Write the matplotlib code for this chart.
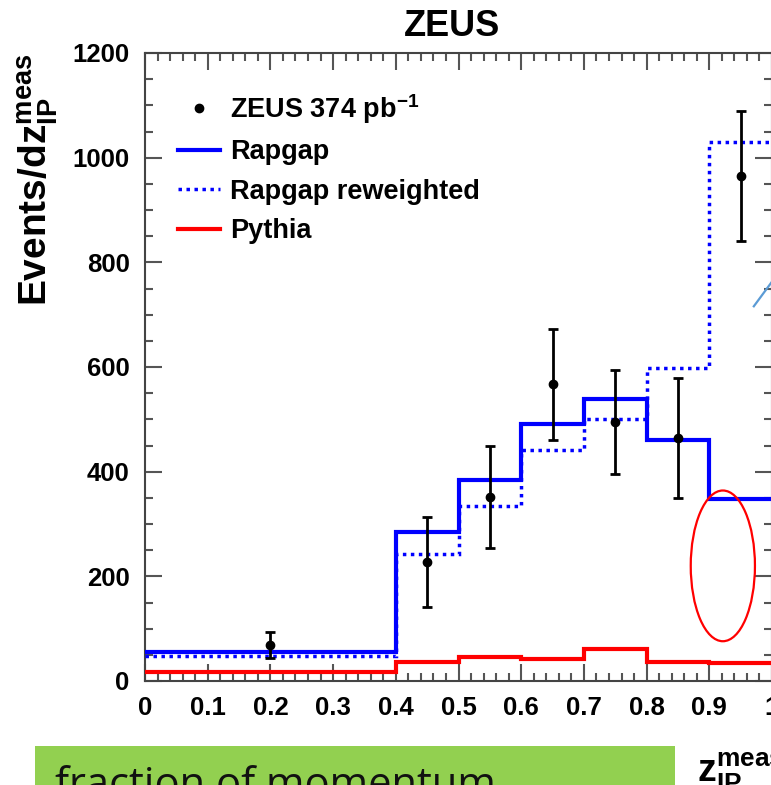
import matplotlib
matplotlib.use("Agg")
import matplotlib.pyplot as plt
from matplotlib.lines import Line2D
from matplotlib.patches import Ellipse, Rectangle
from matplotlib.ticker import MultipleLocator

plt.rcParams['font.family'] = ['Liberation Sans', 'DejaVu Sans']
plt.rcParams['mathtext.fontset'] = 'custom'
plt.rcParams['mathtext.rm'] = 'Liberation Sans:bold'
plt.rcParams['mathtext.bf'] = 'Liberation Sans:bold'
plt.rcParams['mathtext.it'] = 'Liberation Sans:bold'

# bin edges of z_IP^meas
edges = [0.0, 0.4, 0.5, 0.6, 0.7, 0.8, 0.9, 1.0]
rapgap = [55, 285, 384, 491, 539, 460, 348]
rapgap_rew = [47, 243, 334, 441, 501, 598, 1030]
pythia = [17, 37, 45, 42, 61, 36, 34]

# ZEUS data points
data_x = [0.2, 0.45, 0.55, 0.65, 0.75, 0.85, 0.95]
data_y = [69, 227, 352, 567, 495, 464, 965]
data_err = [25, 86, 97, 106, 99, 115, 125]

xtick_vals = [0, 0.1, 0.2, 0.3, 0.4, 0.5, 0.6, 0.7, 0.8, 0.9, 1.0]
xtick_labels = ['0', '0.1', '0.2', '0.3', '0.4', '0.5', '0.6', '0.7', '0.8', '0.9', '1']
ytick_vals = [0, 200, 400, 600, 800, 1000, 1200]

W, H = 771, 785
fig = plt.figure(figsize=(W / 100, H / 100), dpi=100)
ax = fig.add_axes([145 / W, (H - 681) / H, (772 - 145) / W, 628 / H])

ax.stairs(rapgap, edges, color='#0000ff', lw=3, baseline=None, zorder=3)
ax.stairs(rapgap_rew, edges, color='#0000ff', lw=2.5, linestyle=(0, (1, 1.3)),
          baseline=None, zorder=3)
ax.stairs(pythia, edges, color='#ff0000', lw=3, baseline=None, zorder=3)
ax.errorbar(data_x, data_y, yerr=data_err, fmt='o', color='black', ms=6,
            lw=2, capsize=3.5, capthick=2, zorder=5)

ax.set_xlim(0, 1)
ax.set_ylim(0, 1200)
ax.set_xticks(xtick_vals)
ax.set_xticklabels(xtick_labels)
ax.set_yticks(ytick_vals)
ax.xaxis.set_minor_locator(MultipleLocator(0.02))
ax.yaxis.set_minor_locator(MultipleLocator(50))
ax.tick_params(which='both', direction='in', top=True, right=True, color='#555555', width=1.5)
ax.tick_params(which='major', length=12)
ax.tick_params(which='minor', length=6)
ax.tick_params(axis='x', pad=11)
ax.tick_params(axis='y', pad=11)
for lab in ax.get_xticklabels() + ax.get_yticklabels():
    lab.set_fontsize(18.5)
    lab.set_fontweight('bold')
for sp in ax.spines.values():
    sp.set_color('#444444')
    sp.set_linewidth(1.5)

# legend
handles = [
    Line2D([], [], marker='o', ms=6, color='black', linestyle='none'),
    Line2D([], [], color='#0000ff', lw=3),
    Line2D([], [], color='#0000ff', lw=2.5, linestyle=(0, (1, 1.3))),
    Line2D([], [], color='#ff0000', lw=3),
]
labels = [r'ZEUS 374 pb$^{-1}$', 'Rapgap', 'Rapgap reweighted', 'Pythia']
ax.legend(handles, labels, loc='upper left', bbox_to_anchor=(178 / W, 1 - 92 / H),
          bbox_transform=fig.transFigure, frameon=False, borderpad=0, borderaxespad=0,
          handlelength=1.55, handletextpad=0.37, labelspacing=0.5,
          prop={'weight': 'bold', 'size': 19.5})

# annotations drawn on top of the figure
ax.add_patch(Ellipse((0.9216, 220), 0.1024, 288, fill=False, edgecolor='#ff0000', lw=1.6, zorder=6))
ax.plot([0.971, 1.003], [716, 768], color='#5b9bd5', lw=1.6, clip_on=False, zorder=6)

fig.text(452 / W, 1 - 26 / H, 'ZEUS', ha='center', va='center', fontsize=26, fontweight='bold')
fig.text(38 / W, 1 - 54 / H, r'Events/dz$_{IP}^{meas}$', rotation=90, ha='center', va='top',
         fontsize=28, fontweight='bold')
fig.text(697 / W, 1 - 782 / H, r'z$_{IP}^{meas}$', ha='left', va='baseline',
         fontsize=27, fontweight='bold')

fig.patches.append(Rectangle((35 / W, 0), (675 - 35) / W, (H - 746) / H,
                             transform=fig.transFigure, facecolor='#92d050', edgecolor='none'))
fig.text(55 / W, -12 / H, 'fraction of momentum', ha='left', va='baseline',
         fontsize=30, family=['Open Sans', 'DejaVu Sans'], color='#111111')

fig.savefig('out.png', dpi=100)
